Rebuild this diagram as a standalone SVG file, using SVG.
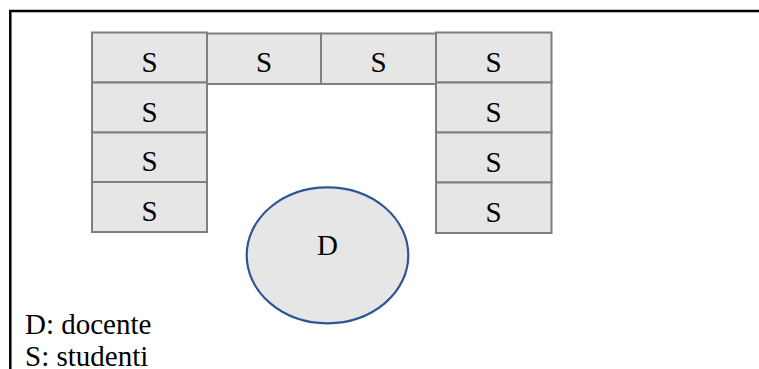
<svg xmlns="http://www.w3.org/2000/svg" width="759" height="369" viewBox="0 0 759 369">
  <style>
    .seat rect { fill: #e6e6e6; stroke: #7f7f7f; stroke-width: 2; }
    text { font-family: "Liberation Serif", "Times New Roman", serif; font-size: 29px; fill: #000; }
    .seat text { text-anchor: middle; }
    .teacher ellipse { fill: #e6e6e6; stroke: #2f5597; stroke-width: 2.2; }
    .teacher text { text-anchor: middle; }
  </style>
  <rect width="759" height="369" fill="#fff"/>
  <!-- outer frame -->
  <path d="M10.3,369 V11 H770" fill="none" stroke="#000" stroke-width="2.5"/>

  <!-- left column of seats -->
  <g id="seat-l1" class="seat"><rect x="92" y="32.5" width="115" height="50"/><text x="149.5" y="71.5">S</text></g>
  <g id="seat-l2" class="seat"><rect x="92" y="82.5" width="115" height="50"/><text x="149.5" y="121.5">S</text></g>
  <g id="seat-l3" class="seat"><rect x="92" y="132.5" width="115" height="49.5"/><text x="149.5" y="171">S</text></g>
  <g id="seat-l4" class="seat"><rect x="92" y="182" width="115" height="50"/><text x="149.5" y="221">S</text></g>

  <!-- front row of seats -->
  <g id="seat-t1" class="seat"><rect x="207" y="33.5" width="114" height="50.5"/><text x="264" y="72">S</text></g>
  <g id="seat-t2" class="seat"><rect x="321" y="33.5" width="115" height="50.5"/><text x="378.5" y="72">S</text></g>

  <!-- right column of seats -->
  <g id="seat-r1" class="seat"><rect x="436" y="32.5" width="115.5" height="50"/><text x="493.5" y="71.5">S</text></g>
  <g id="seat-r2" class="seat"><rect x="436" y="82.5" width="115.5" height="50"/><text x="493.5" y="121.5">S</text></g>
  <g id="seat-r3" class="seat"><rect x="436" y="132.5" width="115.5" height="50"/><text x="493.5" y="172">S</text></g>
  <g id="seat-r4" class="seat"><rect x="436" y="182.5" width="115.5" height="50.5"/><text x="493.5" y="222">S</text></g>

  <!-- teacher -->
  <g id="teacher" class="teacher">
    <ellipse cx="327.5" cy="255.3" rx="80.8" ry="68"/>
    <text x="327.5" y="255">D</text>
  </g>

  <!-- legend -->
  <g id="legend">
    <text x="25" y="334">D: docente</text>
    <text x="25" y="365.5">S: studenti</text>
  </g>

  <g id="connectors"/>
</svg>
